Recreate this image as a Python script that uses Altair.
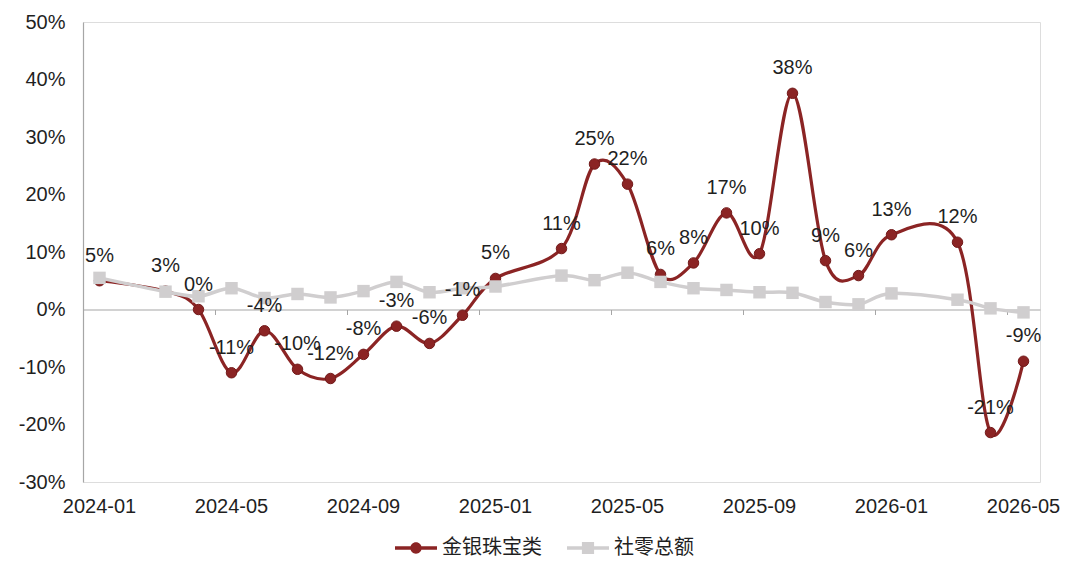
import altair as alt
import pandas as pd

# ---- data ----
months = ["2024-01", "2024-03", "2024-04", "2024-05", "2024-06", "2024-07", "2024-08",
          "2024-09", "2024-10", "2024-11", "2024-12", "2025-01", "2025-03", "2025-04",
          "2025-05", "2025-06", "2025-07", "2025-08", "2025-09", "2025-10", "2025-11",
          "2025-12", "2026-01", "2026-03", "2026-04", "2026-05"]
jewelry = [5.0, 3.2, 0.0, -11.0, -3.7, -10.4, -12.0, -7.8, -2.9, -5.9, -1.0, 5.4, 10.6, 25.3,
           21.8, 6.1, 8.1, 16.8, 9.7, 37.6, 8.5, 5.9, 13.0, 11.7, -21.4, -9.0]
retail = [5.5, 3.1, 2.3, 3.7, 2.0, 2.7, 2.1, 3.2, 4.8, 3.0, 3.7, 4.0, 5.9, 5.1,
          6.4, 4.8, 3.7, 3.4, 3.0, 2.9, 1.3, 0.9, 2.8, 1.7, 0.2, -0.5]
series_names = ["金银珠宝类", "社零总额"]
axis_months = [f"{y}-{m:02d}" for y in (2024, 2025, 2026) for m in range(1, 13)][:29]
tick_months = axis_months[::4]
y_ticks = [-30, -20, -10, 0, 10, 20, 30, 40, 50]

long = pd.concat([
    pd.DataFrame({"series": series_names[0], "month": months, "value": jewelry}),
    pd.DataFrame({"series": series_names[1], "month": months, "value": retail}),
], ignore_index=True)

FONT = "Liberation Sans, Arial, Noto Sans CJK SC, sans-serif"
RED = "#8B2424"
RED_EDGE = "#721A1A"
GRAY = "#D0CECF"
AXIS_GRAY = "#A6A6A6"
TEXT = "#1f1f1f"

x = alt.X(
    "month:O",
    scale=alt.Scale(type="band", domain=axis_months, paddingInner=0, paddingOuter=0),
    axis=alt.Axis(values=tick_months, title=None, labelAngle=0, orient="bottom",
                  offset=-172.5, bandPosition=0, ticks=True, tickSize=5,
                  tickColor=AXIS_GRAY, domainColor=AXIS_GRAY, domainWidth=1.2,
                  labelPadding=182, labelFontSize=20, labelColor=TEXT,
                  labelFont=FONT, grid=False),
)
y = alt.Y(
    "value:Q",
    scale=alt.Scale(domain=[-30, 50], nice=False, zero=False),
    axis=alt.Axis(values=y_ticks, labelExpr="datum.value + '%'", ticks=False, grid=False,
                  domainColor=AXIS_GRAY, domainWidth=1.2, labelPadding=18, title=None,
                  labelFontSize=20, labelColor=TEXT, labelFont=FONT),
)

base = alt.Chart(long).encode(x=x, y=y)
red = base.transform_filter(alt.datum.series == series_names[0])
gray = base.transform_filter(alt.datum.series == series_names[1])

red_line = red.mark_line(color=RED, strokeWidth=3.2, interpolate="cardinal")
red_pts = red.mark_point(filled=True, fill=RED, stroke=RED_EDGE, strokeWidth=1,
                         size=110, opacity=1)
gray_line = gray.mark_line(color=GRAY, strokeWidth=3.5, interpolate="cardinal")
gray_pts = gray.mark_point(filled=True, shape="square", color=GRAY, size=155, opacity=1)
labels = red.transform_calculate(label="round(datum.value) + '%'").mark_text(
    dy=-25, fontSize=20, font=FONT, color=TEXT, baseline="middle"
).encode(text="label:N")

PATH_C = ("M-1,-0.085L1,-0.085L1,0.085L-1,0.085Z "
          "M0.27,0A0.27,0.27,0,1,1,-0.27,0A0.27,0.27,0,1,1,0.27,0Z")
PATH_S = ("M-1,-0.085L1,-0.085L1,0.085L-1,0.085Z "
          "M-0.29,-0.29L0.29,-0.29L0.29,0.29L-0.29,0.29Z")

leg = alt.Legend(title=None, orient="none", legendX=312, legendY=505, direction="horizontal",
                 symbolSize=1764, labelFontSize=20, labelFont=FONT, labelColor=TEXT,
                 columnPadding=25, labelOffset=5, padding=0, symbolStrokeWidth=0)
legend_layer = alt.Chart(long).transform_filter("false").mark_point(
    filled=True, opacity=1
).encode(
    color=alt.Color("series:N", scale=alt.Scale(domain=series_names, range=[RED, GRAY]), legend=leg),
    shape=alt.Shape("series:N", scale=alt.Scale(domain=series_names, range=[PATH_C, PATH_S]), legend=leg),
)

chart = alt.layer(red_line, red_pts, gray_line, gray_pts, labels, legend_layer).properties(
    width=957, height=460,
    autosize=alt.AutoSizeParams(type="none"),
    padding={"left": 75, "top": 14, "right": 32, "bottom": 85},
).configure_view(stroke=None).configure(font=FONT)

chart.save("out.html", embed_options={"renderer": "svg", "actions": False})
